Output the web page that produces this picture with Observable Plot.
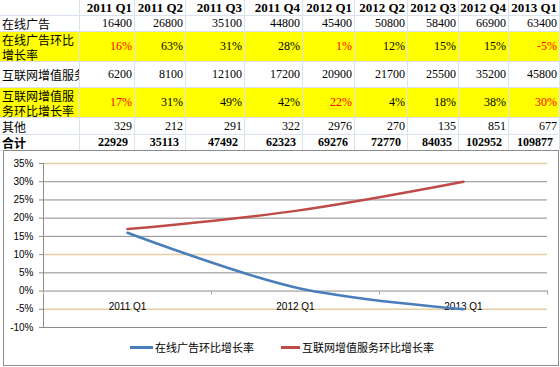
<!DOCTYPE html>
<html><head><meta charset="utf-8">
<script src="https://cdn.jsdelivr.net/npm/d3@7"></script>
<script src="https://cdn.jsdelivr.net/npm/@observablehq/plot@0.6"></script>
<style>
html,body{margin:0;padding:0;background:#fff;}
body{width:560px;height:367px;position:relative;overflow:hidden;}
.cell{position:absolute;box-sizing:border-box;border-right:1px solid #d9e2ee;border-bottom:1px solid #d9e2ee;display:flex;align-items:center;justify-content:flex-end;padding-right:2px;overflow:hidden;white-space:nowrap;font:12px/13px "Liberation Serif",serif;color:#000;}
.cell.lab{justify-content:flex-start;padding-left:2px;font-family:"Noto Sans CJK SC",sans-serif;}
.cell.wrap{white-space:normal;line-height:15px;}
.hdr{font-weight:bold;font-size:13px;}
.yel{background:#ffff00;}
.tot{font-weight:bold;padding-right:6px;}
.red{color:#ff0000;}
#frame{position:absolute;left:3px;top:150px;width:554px;height:214px;border:1px solid #8c8c8c;background:#fff;}
#chart{position:absolute;left:0;top:151px;}
#legend{position:absolute;top:339px;left:0;width:560px;height:16px;font:11px/16px "Noto Sans CJK SC",sans-serif;color:#000;}
#legend .item{position:absolute;top:0;display:flex;align-items:center;height:16px;}
#legend .sw{display:inline-block;height:3px;margin-right:2px;}
</style>
</head><body>
<div id="tbl"></div>
<div id="frame"></div>
<div id="chart"></div>
<div id="legend"></div>
<script>
// ---- data ----
const quarters = ["2011 Q1","2011 Q2","2011 Q3","2011 Q4","2012 Q1","2012 Q2","2012 Q3","2012 Q4","2013 Q1"];
const onlineAds = [16400,26800,35100,44800,45400,50800,58400,66900,63400];
const onlineAdsGrowth = [16,63,31,28,1,12,15,15,-5];
const vas = [6200,8100,12100,17200,20900,21700,25500,35200,45800];
const vasGrowth = [17,31,49,42,22,4,18,38,30];
const other = [329,212,291,322,2976,270,135,851,677];
const total = [22929,35113,47492,62323,69276,72770,84035,102952,109877];
const rowLabels = ["在线广告","在线广告环比增长率","互联网增值服务收入","互联网增值服务环比增长率","其他","合计"];
const seriesNames = ["在线广告环比增长率","互联网增值服务环比增长率"];
const seriesColors = ["#4a7ebb","#be4b48"];
const yTicks = [-0.10,-0.05,0,0.05,0.10,0.15,0.20,0.25,0.30,0.35];
const tanTicks = [0.35,0.10,-0.05];

// ---- table (absolute grid cells) ----
const colW = [80,55,51,59,58,52,53,51,50,51];
const rowH = [16,16,30,26,30,17,16];
const colX = colW.map((w,i)=>d3.sum(colW.slice(0,i)));
const rowY = rowH.map((h,i)=>d3.sum(rowH.slice(0,i)));
const isQ1 = q => q.endsWith("Q1");
const rows = [
  {label: rowLabels[0], vals: onlineAds, cls:""},
  {label: "在线广告环比<br>增长率", vals: onlineAdsGrowth, cls:"yel", pct:true},
  {label: rowLabels[2], vals: vas, cls:""},
  {label: "互联网增值服<br>务环比增长率", vals: vasGrowth, cls:"yel", pct:true},
  {label: rowLabels[4], vals: other, cls:""},
  {label: rowLabels[5], vals: total, cls:"tot"}
];
let html = "";
const cell = (r, c, cls, content) =>
  `<div class="cell ${cls}" style="left:${colX[c]}px;top:${rowY[r]}px;width:${colW[c]}px;height:${rowH[r]}px">${content}</div>`;
html += cell(0, 0, "hdr", "");
quarters.forEach((q,i)=>{ html += cell(0, i+1, "hdr", q); });
rows.forEach((r,ri)=>{
  html += cell(ri+1, 0, `lab ${r.cls}${r.pct?' wrap':''}`, `<span>${r.label}</span>`);
  r.vals.forEach((v,i)=>{
    html += r.pct
      ? cell(ri+1, i+1, `${r.cls} ${isQ1(quarters[i])?'red':''}`, `${v}%`)
      : cell(ri+1, i+1, r.cls, `${v}`);
  });
});
document.getElementById("tbl").innerHTML = html;

// ---- chart ----
const q1 = quarters.map((q,i)=>({q,i})).filter(d=>isQ1(d.q)).map((d,k)=>({...d,k:k+0.5}));
const growth = [onlineAdsGrowth, vasGrowth];
const pts = growth.flatMap((vals,s)=>q1.map(d=>({k:d.k, v:vals[d.i]/100, name:seriesNames[s], color:seriesColors[s]})));
const gridGray = yTicks.filter(t=>!tanTicks.includes(t));

const chart = Plot.plot({
  width: 560, height: 190,
  marginLeft: 43, marginRight: 13, marginTop: 12, marginBottom: 14,
  style: {fontFamily: "'Liberation Sans', Arial, sans-serif", fontSize: "10px", color: "#000", background: "transparent"},
  x: {domain: [0, q1.length], axis: null},
  y: {domain: [-0.10, 0.35], ticks: yTicks, tickFormat: d => Math.round(d*100) + "%", tickSize: 0, tickPadding: 10, label: null},
  marks: [
    Plot.ruleY(gridGray, {stroke: "#8c8c8c", strokeWidth: 1}),
    Plot.ruleY(tanTicks, {stroke: "#e3cfa3", strokeWidth: 1.5}),
    Plot.ruleY(yTicks, {x1: 0, x2: 0, insetLeft: -4, stroke: "#8c8c8c"}),
    Plot.ruleX([0], {stroke: "#8c8c8c"}),
    Plot.ruleX(d3.range(q1.length + 1), {y1: 0, y2: 0, insetBottom: -4, stroke: "#b0a890"}),
    Plot.text(q1, {x: "k", y: 0, text: "q", dy: 16, fontSize: 10, fill: "#000"}),
    Plot.line(pts, {x: "k", y: "v", z: "name", stroke: "color", strokeWidth: 2.5, curve: "catmull-rom"})
  ]
});
document.getElementById("chart").appendChild(chart);

// ---- legend ----
const leg = document.getElementById("legend");
const legX = [130, 281], swW = [23, 19];
seriesNames.forEach((n,s)=>{
  const it = document.createElement("div");
  it.className = "item"; it.style.left = legX[s] + "px";
  it.innerHTML = `<span class="sw" style="width:${swW[s]}px;background:${seriesColors[s]}"></span><span>${n}</span>`;
  leg.appendChild(it);
});
</script>
</body></html>
